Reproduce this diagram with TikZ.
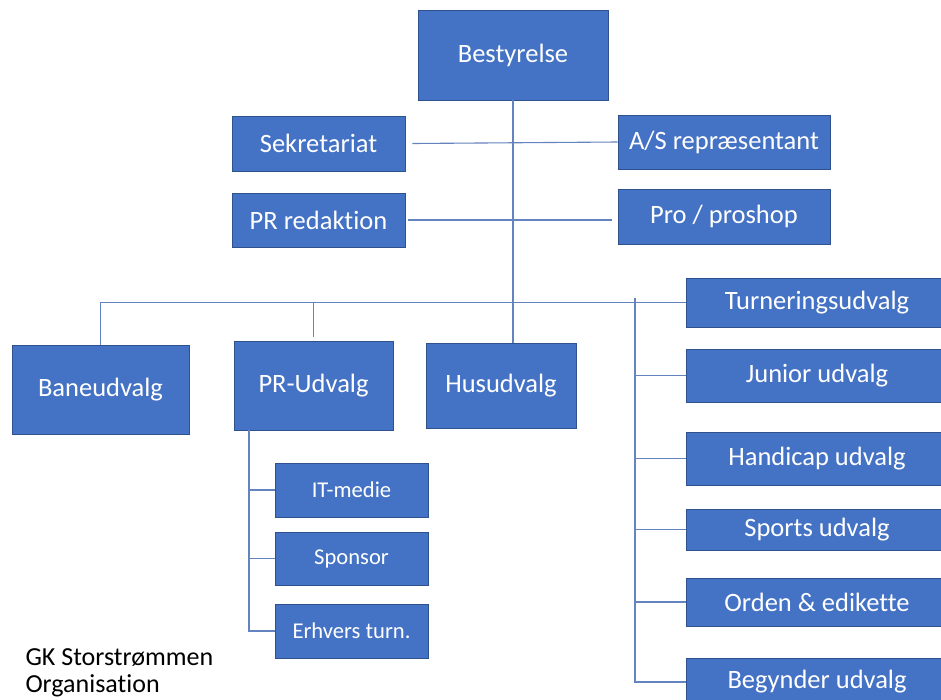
\documentclass[tikz,border=0pt]{standalone}
\usepackage{fontspec}
\setmainfont{Carlito}[Ligatures=NoCommon]
\usepackage{tikz}
\definecolor{boxblue}{HTML}{4472C4}
\definecolor{boxline}{HTML}{2F528F}
\definecolor{linkblue}{RGB}{100,132,192}
\tikzset{
  orgbox/.style={rectangle, draw=boxline, line width=0.8pt, fill=boxblue, text=white,
    inner sep=0pt, font=\fontsize{26.5}{31}\selectfont},
  subbox/.style={orgbox, font=\fontsize{22.6}{27}\selectfont},
  link/.style={draw=linkblue, line width=1.1pt}
}

\begin{document}
\begin{tikzpicture}[x=1pt,y=-1pt]
            \clip (0,0) rectangle (941,699);
            \fill[white] (0,0) rectangle (941,699);

            % top level
            \node[orgbox,minimum width=190,minimum height=90] (best) at (513,55) {Bestyrelse};
            \node[orgbox,minimum width=173,minimum height=55] (sek) at (318.5,143.5) {Sekretariat};
            \node[orgbox,minimum width=173,minimum height=54] (prr) at (318.5,220) {PR redaktion};
            \node[orgbox,minimum width=212,minimum height=54] (as) at (724,142) {A/S repræsentant};
            \node[orgbox,minimum width=212,minimum height=55] (pro) at (724,216.5) {Pro / proshop};

            % udvalg
            \node[orgbox,minimum width=177,minimum height=89] (bane) at (100.5,389.5) {Baneudvalg};
            \node[orgbox,minimum width=159,minimum height=89] (pru) at (313.5,385.5) {PR-Udvalg};
            \node[orgbox,minimum width=150,minimum height=85] (hus) at (501,385.5) {Husudvalg};

            \node[orgbox,minimum width=262,minimum height=49] (turn) at (817,302.5) {Turneringsudvalg};
            \node[orgbox,minimum width=262,minimum height=53] (jun) at (817,375.5) {Junior udvalg};
            \node[orgbox,minimum width=262,minimum height=53] (hcp) at (817,458.5) {Handicap udvalg};
            \node[orgbox,minimum width=262,minimum height=41] (spo) at (817,529.5) {Sports udvalg};
            \node[orgbox,minimum width=262,minimum height=48] (ord) at (817,602) {Orden \& edikette};
            \node[orgbox,minimum width=262,minimum height=48] (beg) at (817,682) {Begynder udvalg};

            % under PR-Udvalg
            \node[subbox,minimum width=153,minimum height=54] (itm) at (351.5,490) {IT-medie};
            \node[subbox,minimum width=153,minimum height=53] (spn) at (351.5,558.5) {Sponsor};
            \node[subbox,minimum width=153,minimum height=54] (erh) at (351.5,631) {Erhvers turn.};

            \node[anchor=base west,font=\fontsize{26}{29}\selectfont] (title1) at (22,665) {GK Storstrømmen};
            \node[anchor=base west,font=\fontsize{26}{29}\selectfont] (title2) at (22,692) {Organisation};

            \coordinate (rv) at (635,298);
            \coordinate (sv) at (249,0);

            \draw[link] (best.south) -- (best.south |- hus.north);
            \draw[link] ([xshift=7]sek.east) -- (as.west);
            \draw[link] ([xshift=3]prr.east) -- ([xshift=-6]pro.west |- prr.east);
            \draw[link] (bane.north) |- (turn.west);
            \draw[link] ([yshift=4]pru.north) -- (pru.north |- turn.west);
            \draw[link] (rv) -- (rv |- beg.west) -- (beg.west);
            \foreach \n in {jun,hcp,spo,ord}
                \draw[link] (rv |- \n.west) -- (\n.west);
            \draw[link] (sv |- pru.south) -- (sv |- erh.west) -- (erh.west);
            \foreach \n in {itm,spn}
                \draw[link] (sv |- \n.west) -- (\n.west);
        \end{tikzpicture}
\end{document}
